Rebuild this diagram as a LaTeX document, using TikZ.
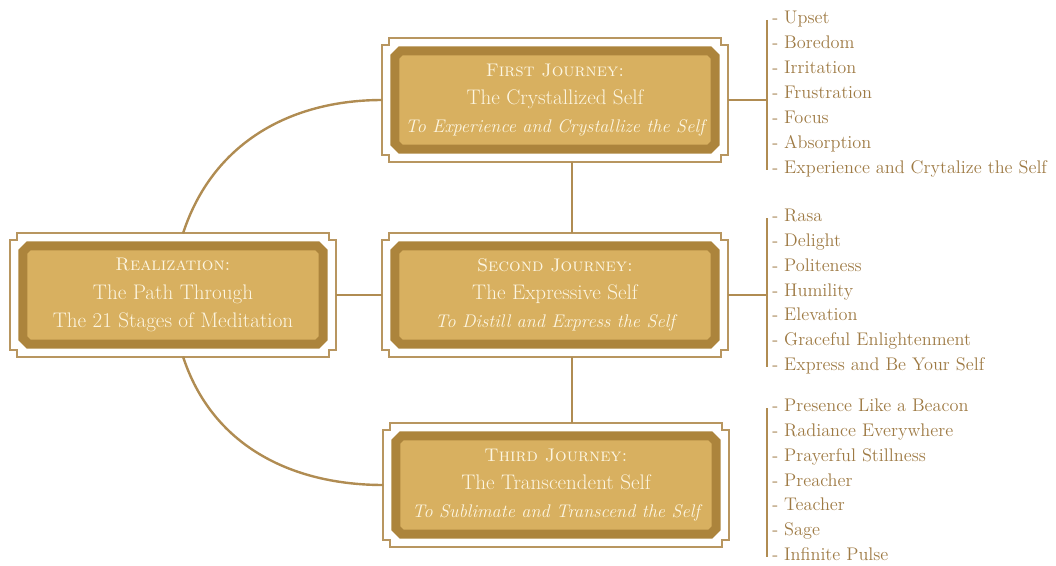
\documentclass[tikz,border=0pt]{standalone}
\usepackage{fontspec}
\usetikzlibrary{calc,fit,shapes.misc}
\definecolor{GoldDark}{RGB}{172,132,60}
\definecolor{GoldFill}{RGB}{216,176,96}
\definecolor{FrameClr}{RGB}{184,150,96}
\definecolor{LinkClr}{RGB}{176,140,82}
\definecolor{ListClr}{RGB}{158,122,68}
\definecolor{CreamClr}{RGB}{253,246,226}

\newcommand\nch{7}
% notched outline round a frame node
\newcommand\stageframe[1]{%
  \draw[frameline]
    ($(#1.north west)+(0,-\nch)$) -- ++(\nch,0) -- ++(0,\nch)
    -- ($(#1.north east)+(-\nch,0)$) -- ++(0,-\nch) -- ++(\nch,0)
    -- ($(#1.south east)+(0,\nch)$) -- ++(-\nch,0) -- ++(0,-\nch)
    -- ($(#1.south west)+(\nch,0)$) -- ++(0,\nch) -- ++(-\nch,0) -- cycle;}
\newcommand\stagehead[1]{{\fontsize{13}{20}\selectfont\textsc{#1}}}
\newcommand\stageaim[1]{{\fontsize{13}{20}\selectfont\itshape #1}}

\begin{document}
\begin{tikzpicture}[x=0.025cm,y=0.025cm,
  stage/.style={chamfered rectangle,chamfered rectangle xsep=0.07cm,
    chamfered rectangle ysep=0.07cm,draw=GoldDark,line width=0.225cm,
    fill=GoldFill,text=CreamClr,minimum width=8.0cm,minimum height=2.45cm,
    align=center,inner sep=0pt,font=\fontsize{15}{20}\selectfont},
  frame/.style={inner sep=0.2cm,outer sep=0pt},
  frameline/.style={draw=FrameClr,line width=0.05cm},
  link/.style={draw=LinkClr,line width=0.06cm},
  item/.style={anchor=west,inner sep=0pt,text=ListClr,text height=1.7ex,
    text depth=0.5ex,font=\fontsize{13}{16}\selectfont}]

\useasboundingbox (0,0) rectangle (1056,-565);

% the four boxes
\node[stage,minimum width=7.5cm] (real) at (173,-295)
  {\stagehead{Realization:}\\The Path Through\\The 21 Stages of Meditation};
\node[stage] (first) at (555,-100)
  {\stagehead{First Journey:}\\The Crystallized Self\\\stageaim{To Experience and Crystallize the Self}};
\node[stage] (second) at (555,-295)
  {\stagehead{Second Journey:}\\The Expressive Self\\\stageaim{To Distill and Express the Self}};
\node[stage] (third) at (556,-485)
  {\stagehead{Third Journey:}\\The Transcendent Self\\\stageaim{To Sublimate and Transcend the Self}};

\foreach \s in {real,first,second,third}{
  \node[frame,fit=(\s.north)(\s.south)(\s.east)(\s.west)] (\s frame) {};
  \stageframe{\s frame}
}

% links between boxes
\coordinate (spine) at (572,0);
\draw[link] (firstframe.south -| spine) -- (secondframe.north -| spine);
\draw[link] (secondframe.south -| spine) -- (thirdframe.north -| spine);
\draw[link] (realframe.east) -- (secondframe.west);
\draw[link] ($(realframe.north)+(10,0)$) to[out=72,in=180] (firstframe.west);
\draw[link] ($(realframe.south)+(10,0)$) to[out=-72,in=180] (thirdframe.west);

% stage lists
\foreach \t [count=\i] in {Upset,Boredom,Irritation,Frustration,Focus,Absorption,
    Experience and Crytalize the Self}
  \node[item] (crys\i) at (772,{-20-25*(\i-1)}) {- \t};
\foreach \t [count=\i] in {Rasa,Delight,Politeness,Humility,Elevation,
    Graceful Enlightenment,Express and Be Your Self}
  \node[item] (expr\i) at (772,{-218-24.8*(\i-1)}) {- \t};
\foreach \t [count=\i] in {Presence Like a Beacon,Radiance Everywhere,
    Prayerful Stillness,Preacher,Teacher,Sage,Infinite Pulse}
  \node[item] (tran\i) at (772,{-408-24.8*(\i-1)}) {- \t};

\coordinate (crysbar) at ($(crys1.west)+(-5,0)$);
\coordinate (exprbar) at ($(expr1.west)+(-5,0)$);
\coordinate (tranbar) at ($(tran1.west)+(-5,0)$);
\draw[link] (crysbar) -- (crysbar |- crys7.west);
\draw[link] (exprbar) -- (exprbar |- expr7.west);
\draw[link] (tranbar) -- (tranbar |- tran7.west);
\draw[link] (firstframe.east) -- (firstframe.east -| crysbar);
\draw[link] (secondframe.east) -- (secondframe.east -| exprbar);

\end{tikzpicture}
\end{document}
